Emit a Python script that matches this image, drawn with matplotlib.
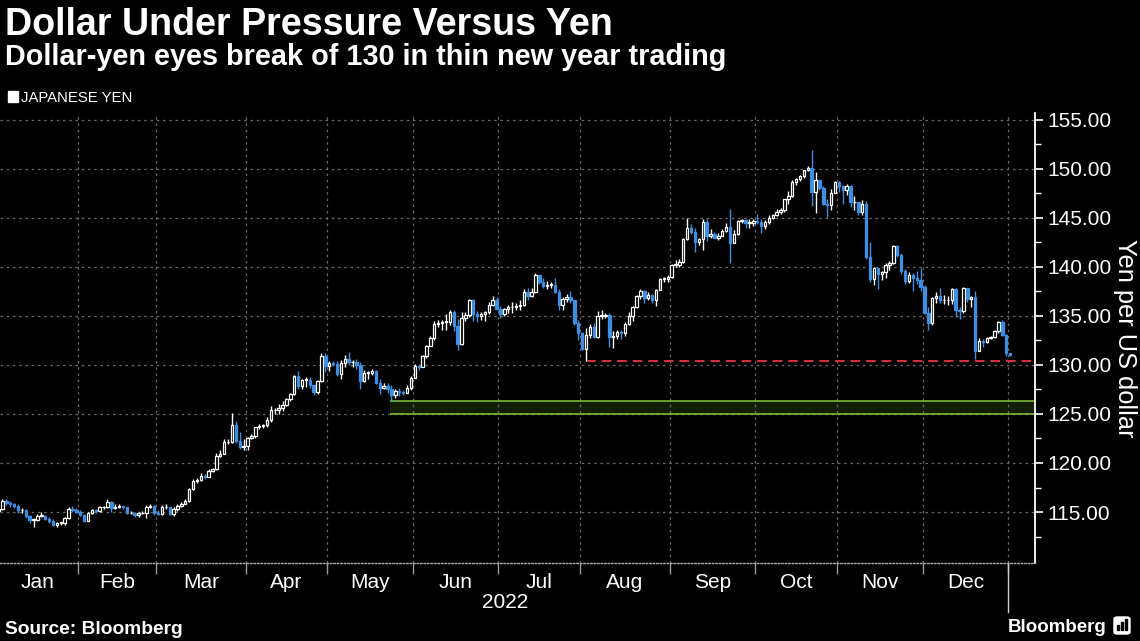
"""Dollar-yen daily candles for 2022, Bloomberg-style dark chart."""
import matplotlib

matplotlib.use("Agg")
import matplotlib.pyplot as plt
from matplotlib.patches import Rectangle, FancyBboxPatch

plt.rcParams["font.family"] = ["Liberation Sans", "DejaVu Sans"]

W, H, DPI = 1140, 641, 100
UP = "white"
DOWN = "#3d8fe3"
GRID = "#6a6a6a"

month_labels = ["Jan", "Feb", "Mar", "Apr", "May", "Jun",
                "Jul", "Aug", "Sep", "Oct", "Nov", "Dec"]
month_days = [21, 20, 23, 21, 22, 22, 21, 23, 22, 21, 22, 22]
year_label = "2022"

first_open = 115.1
closes = [
    115.3, 116.1, 115.9, 115.8, 115.6, 115.2, 115.2, 114.6, 114.2, 114.2, 114.6, 114.6, 114.3, 114.1, 113.7, 113.9, 113.9, 114.4, 115.3, 115.2, 115.0,  # Jan
    114.7, 114.1, 114.9, 115.2, 115.1, 115.5, 115.5, 116.0, 115.4, 115.5, 115.6, 115.5, 114.9, 114.9, 114.7, 114.9, 114.9, 115.5, 115.6, 114.9,  # Feb
    114.8, 115.5, 115.5, 114.8, 115.3, 115.6, 115.8, 116.1, 117.3, 118.2, 118.3, 118.7, 118.6, 119.2, 119.4, 120.7, 120.9, 122.1, 122.1, 123.9, 122.2, 121.6, 121.7,  # Mar
    122.6, 122.8, 123.7, 123.8, 123.9, 124.4, 125.4, 125.4, 125.6, 125.9, 126.5, 127.0, 128.9, 127.9, 128.5, 128.5, 128.0, 127.2, 128.4, 130.9, 129.9,  # Apr
    130.2, 130.1, 129.1, 130.2, 130.6, 130.3, 130.3, 130.0, 128.4, 129.2, 129.2, 129.4, 128.2, 127.6, 127.9, 127.5, 126.9, 127.3, 127.2, 127.1, 127.6, 128.7,  # May
    129.9, 129.8, 130.9, 131.9, 132.8, 134.2, 134.3, 134.4, 134.4, 135.4, 134.0, 132.1, 134.8, 135.1, 136.6, 135.2, 135.0, 135.2, 135.4, 136.1, 136.6, 135.7,  # Jun
    135.2, 135.7, 135.9, 135.9, 136.0, 136.1, 137.4, 137.0, 137.4, 139.2, 138.5, 138.1, 138.2, 138.2, 137.4, 136.1, 136.7, 136.9, 136.6, 134.3, 133.3,  # Jul
    131.6, 133.1, 133.9, 132.9, 135.0, 135.0, 135.1, 132.9, 133.0, 133.4, 133.3, 134.2, 135.0, 135.9, 137.0, 137.5, 136.8, 137.1, 136.6, 137.6, 138.8, 138.8, 139.0,  # Aug
    140.2, 140.2, 140.5, 142.8, 144.0, 143.6, 142.5, 142.8, 144.6, 143.2, 143.4, 143.0, 143.2, 143.7, 144.1, 142.4, 143.4, 144.7, 144.8, 144.5, 144.5, 144.7,  # Sep
    144.6, 144.2, 144.6, 145.0, 145.3, 145.6, 145.8, 146.9, 147.2, 148.7, 149.0, 149.3, 149.9, 150.1, 147.6, 148.9, 148.0, 146.4, 146.3, 147.5, 148.7,  # Oct
    148.3, 147.8, 148.3, 146.6, 146.6, 145.6, 146.4, 141.0, 138.8, 139.9, 139.3, 139.5, 140.2, 140.4, 142.1, 141.2, 139.6, 138.6, 139.2, 138.9, 138.7, 138.0,  # Nov
    135.3, 134.3, 136.8, 137.0, 136.6, 136.6, 136.6, 137.7, 135.6, 135.5, 137.8, 136.7, 136.9, 131.4, 132.4, 132.3, 132.8, 132.9, 133.5, 134.4, 133.1, 131.2,  # Dec
    131.0,  # Jan 2023
]
highs = [
    115.4, 116.35, 116.3, 116.1, 115.9, 115.8, 115.4, 115.3, 114.7, 114.4, 114.8, 115.0, 114.7, 114.5, 114.3, 114.0, 114.0, 114.5, 115.5, 115.6, 115.4,
    115.2, 114.8, 115.0, 115.3, 115.3, 115.6, 115.6, 116.3, 116.1, 115.8, 115.8, 115.6, 115.5, 115.1, 115.0, 115.0, 115.1, 115.7, 115.8, 115.7,
    115.2, 115.7, 115.8, 115.6, 115.5, 115.8, 116.0, 116.3, 117.4, 118.4, 118.5, 119.0, 118.9, 119.4, 119.5, 121.0, 121.3, 122.4, 122.4, 125.1, 124.3, 123.2, 122.4,
    122.7, 123.0, 123.7, 124.0, 124.0, 124.7, 125.8, 125.6, 126.0, 126.3, 126.6, 127.1, 129.0, 129.4, 128.6, 128.8, 128.8, 128.0, 128.5, 131.2, 131.2,
    130.4, 130.4, 130.4, 130.5, 131.0, 131.3, 130.5, 130.6, 130.3, 129.5, 129.4, 129.6, 129.5, 128.6, 128.2, 128.2, 128.0, 127.5, 127.6, 127.4, 128.0, 128.9,
    130.1, 130.1, 131.0, 132.0, 133.0, 134.5, 134.6, 134.6, 135.2, 135.6, 135.6, 134.7, 135.4, 135.4, 136.7, 136.7, 135.5, 135.4, 135.5, 136.4, 137.0, 136.9,
    136.0, 135.8, 136.1, 136.4, 136.3, 136.6, 137.7, 137.8, 137.9, 139.4, 139.1, 138.9, 138.6, 138.5, 138.9, 137.7, 136.9, 137.2, 137.5, 136.6, 134.6,
    133.4, 133.8, 134.2, 134.3, 135.5, 135.6, 135.3, 135.3, 133.5, 133.6, 133.6, 134.4, 135.4, 136.0, 137.1, 137.7, 137.6, 137.4, 137.2, 137.7, 138.9, 139.0, 139.2,
    140.3, 140.7, 140.8, 143.0, 145.0, 144.4, 144.0, 143.0, 144.9, 144.9, 143.9, 143.6, 143.5, 143.9, 144.5, 145.9, 143.8, 144.8, 144.9, 144.9, 144.9, 144.9,
    145.4, 144.9, 144.8, 145.3, 145.4, 145.9, 146.0, 146.9, 147.7, 148.9, 149.1, 149.4, 149.9, 150.3, 151.9, 149.7, 148.9, 148.3, 146.9, 147.9, 148.8,
    148.8, 148.4, 148.5, 148.4, 147.2, 146.6, 146.8, 146.7, 142.5, 140.0, 139.9, 139.6, 140.4, 140.6, 142.2, 142.2, 141.4, 139.8, 139.5, 139.4, 139.6, 139.9,
    138.2, 135.9, 136.9, 137.4, 137.9, 137.1, 137.0, 137.8, 137.9, 135.9, 138.0, 137.9, 137.0, 137.5, 132.7, 132.6, 132.9, 133.0, 133.6, 134.5, 134.6, 133.2,
    131.2,
]
lows = [
    115.0, 115.2, 115.7, 115.5, 115.4, 114.9, 114.9, 114.4, 113.9, 113.5, 114.1, 114.5, 114.2, 113.9, 113.6, 113.5, 113.7, 113.7, 114.3, 115.0, 114.9,
    114.6, 114.0, 114.1, 114.8, 114.9, 115.0, 115.3, 115.4, 115.0, 115.3, 115.4, 115.3, 114.8, 114.8, 114.5, 114.5, 114.8, 114.4, 115.4, 114.7,
    114.7, 114.7, 115.3, 114.7, 114.6, 115.1, 115.5, 115.8, 116.0, 117.2, 118.0, 118.2, 118.4, 118.6, 119.1, 119.3, 120.6, 121.1, 121.9, 122.0, 122.0, 121.4, 121.3,
    121.3, 122.4, 122.6, 123.5, 123.6, 123.7, 124.2, 125.0, 125.0, 125.3, 125.8, 126.3, 126.9, 127.5, 127.5, 127.8, 127.6, 126.9, 127.0, 128.3, 129.3,
    129.4, 129.9, 128.9, 128.6, 129.8, 130.0, 129.8, 129.6, 127.5, 128.3, 128.6, 129.0, 128.1, 127.0, 127.5, 127.1, 126.36, 126.6, 126.8, 126.9, 127.1, 127.4,
    128.7, 129.5, 129.8, 130.7, 131.9, 132.5, 133.9, 133.6, 133.6, 134.1, 133.5, 131.5, 132.0, 134.5, 134.9, 134.5, 134.4, 134.6, 134.5, 135.2, 136.0, 135.6,
    134.8, 135.0, 135.3, 135.3, 135.6, 135.6, 136.0, 136.6, 136.9, 137.3, 138.3, 137.8, 137.7, 137.9, 137.3, 135.6, 135.6, 136.4, 136.3, 134.1, 132.5,
    131.5, 130.41, 132.8, 132.7, 132.8, 134.7, 134.8, 131.8, 131.7, 132.6, 132.6, 133.0, 134.1, 134.5, 135.8, 136.7, 136.3, 136.6, 136.3, 136.0, 137.6, 138.5, 138.5,
    138.9, 140.0, 140.0, 140.4, 142.7, 143.4, 141.5, 142.2, 141.7, 142.6, 143.0, 142.9, 142.7, 143.2, 143.6, 140.4, 142.4, 143.3, 144.5, 144.0, 144.0, 144.2,
    144.4, 143.5, 143.9, 144.4, 144.9, 145.2, 145.4, 145.6, 146.4, 147.1, 148.4, 148.8, 149.1, 149.8, 146.2, 145.5, 147.8, 146.3, 145.1, 145.8, 147.6,
    147.6, 146.4, 147.3, 146.1, 145.8, 145.3, 145.3, 140.8, 138.5, 138.2, 137.7, 138.7, 138.9, 139.7, 140.3, 141.0, 139.3, 138.3, 138.4, 137.5, 138.3, 137.5,
    135.2, 133.6, 134.1, 136.3, 136.3, 136.2, 136.1, 136.2, 134.9, 134.7, 135.3, 136.4, 135.9, 130.6, 131.6, 131.8, 132.2, 132.6, 132.8, 133.3, 133.0, 130.9,
    130.9,
]

# reference levels drawn on the chart
support_level = 130.41               # August low, red dashed
zone_low, zone_high = 125.0, 126.36  # May low zone, green band

# ---------------------------------------------------------------------------
fig = plt.figure(figsize=(W / DPI, H / DPI), dpi=DPI, facecolor="black")
ax_top, ax_bottom, ax_right = 113, 563, 1035
ax = fig.add_axes([0, 1 - ax_bottom / H, ax_right / W, (ax_bottom - ax_top) / H])
ax.set_facecolor("black")

n = len(closes)
xs = list(range(n))
opens = [first_open] + closes[:-1]
is_up = [c >= o for o, c in zip(opens, closes)]
hi = [max(h, o, c) for h, o, c in zip(highs, opens, closes)]
lo = [min(l, o, c) for l, o, c in zip(lows, opens, closes)]
edge = [UP if u else DOWN for u in is_up]
face = ["black" if u else DOWN for u in is_up]

ax.vlines(xs, lo, hi, colors=edge, linewidth=1.0, zorder=3)
ax.bar(xs, [max(abs(c - o), 0.05) for o, c in zip(opens, closes)],
       bottom=[min(o, c) for o, c in zip(opens, closes)], width=0.62,
       color=face, edgecolor=edge, linewidth=0.9, zorder=4)

ylo, yhi = 109.8, 155.7
xlo, xhi = 0.38, 266.4
ax.set_ylim(ylo, yhi)
ax.set_xlim(xlo, xhi)

# month boundaries (trading-day index) and label centres
starts = [0]
for d in month_days:
    starts.append(starts[-1] + d)
bounds = [s - 0.5 for s in starts[1:]]
mids = [(a + b) / 2 - 0.5 for a, b in zip(starts[:-1], starts[1:])]

# green zone from the May low, red dashed from the August low
zone_start = lows.index(zone_high)
support_start = lows.index(support_level)
ax.fill_between([zone_start - 0.4, xhi], zone_low, zone_high,
                color="#131f04", linewidth=0, zorder=1)
ax.hlines([zone_low, zone_high], zone_start - 0.4, xhi, colors="#86c63a",
          linewidth=1.1, zorder=2)
ax.hlines(support_level, support_start, xhi, colors="#d9303c",
          linestyles=(0, (5, 3)), linewidth=1.4, zorder=2)

# axes styling
ax.set_xticks(bounds)
ax.set_xticklabels([])
ax.set_xticks(mids, minor=True)
ax.set_xticklabels(month_labels, minor=True)
ax.tick_params(axis="x", which="major", length=8, width=1, color="#9a9a9a")
ax.tick_params(axis="x", which="minor", length=0, pad=7, labelsize=15,
               labelcolor="white")

yt = list(range(115, 160, 5))
ax.yaxis.tick_right()
ax.set_yticks(yt)
ax.set_yticklabels([f"{v:.2f}" for v in yt])
ax.set_yticks([v + 2.5 for v in range(110, 155, 5)], minor=True)
ax.tick_params(axis="y", which="major", length=6, width=1.2, color="white",
               labelsize=15, labelcolor="white", pad=3)
ax.tick_params(axis="y", which="minor", length=4, width=1.0, color="white")

ax.grid(True, which="major", color=GRID, linestyle=(0, (2, 3)), linewidth=0.9)
for side in ("top", "left"):
    ax.spines[side].set_visible(False)
ax.spines["right"].set_color("white")
ax.spines["right"].set_linewidth(1.3)
ax.spines["bottom"].set_color("#b0b0b0")
ax.spines["bottom"].set_linestyle((0, (1, 1.5)))
ax.spines["bottom"].set_linewidth(1.0)

# long tick at the year boundary
ax.plot([bounds[-1], bounds[-1]], [ylo, ylo - 49 / 9.8], color="#cfcfcf",
        linewidth=1.0, clip_on=False)

renderer = fig.canvas.get_renderer()


def fit(t, px, vertical=False):
    bb = t.get_window_extent(renderer)
    size = bb.height if vertical else bb.width
    t.set_fontsize(t.get_fontsize() * px / size)
    return t


def fx(x):
    return x / W


def fy(y):
    return 1 - y / H


# year label under the months
fig.text(fx(505), fy(603), year_label, color="white", fontsize=15,
         ha="center", va="center")

# y axis title
t = fig.text(fx(1125), fy(338), "Yen per US dollar", color="white",
             fontsize=18, rotation=270, ha="center", va="center")
fit(t, 198, vertical=True)

# titles
t = fig.text(fx(5), fy(35), "Dollar Under Pressure Versus Yen", color="white",
             fontsize=26, fontweight="bold", ha="left", va="baseline")
fit(t, 608)
t = fig.text(fx(5), fy(65), "Dollar-yen eyes break of 130 in thin new year trading",
             color="white", fontsize=18, fontweight="bold", ha="left", va="baseline")
fit(t, 723)

# legend
fig.patches.append(Rectangle((fx(8), fy(102)), 10 / W, 11 / H, color="white",
                             transform=fig.transFigure))
t = fig.text(fx(21), fy(102), "JAPANESE YEN", color="white", fontsize=11,
             ha="left", va="baseline")
fit(t, 111)

# footer
t = fig.text(fx(5), fy(634), "Source: Bloomberg", color="white", fontsize=13,
             fontweight="bold", ha="left", va="baseline")
fit(t, 177)
t = fig.text(fx(1008), fy(632), "Bloomberg", color="white", fontsize=17,
             fontweight="bold", ha="left", va="baseline")
fit(t, 99)
fig.patches.append(FancyBboxPatch((fx(1114), fy(634)), 16 / W, 17 / H,
                                  boxstyle="round,pad=0,rounding_size=0.003",
                                  color="white", transform=fig.transFigure))
for i, hgt in enumerate([5, 8, 11]):
    fig.patches.append(Rectangle((fx(1117 + i * 4), fy(630)), 2 / W, hgt / H,
                                 color="black", transform=fig.transFigure))

fig.savefig("out.png", dpi=DPI, facecolor="black")
